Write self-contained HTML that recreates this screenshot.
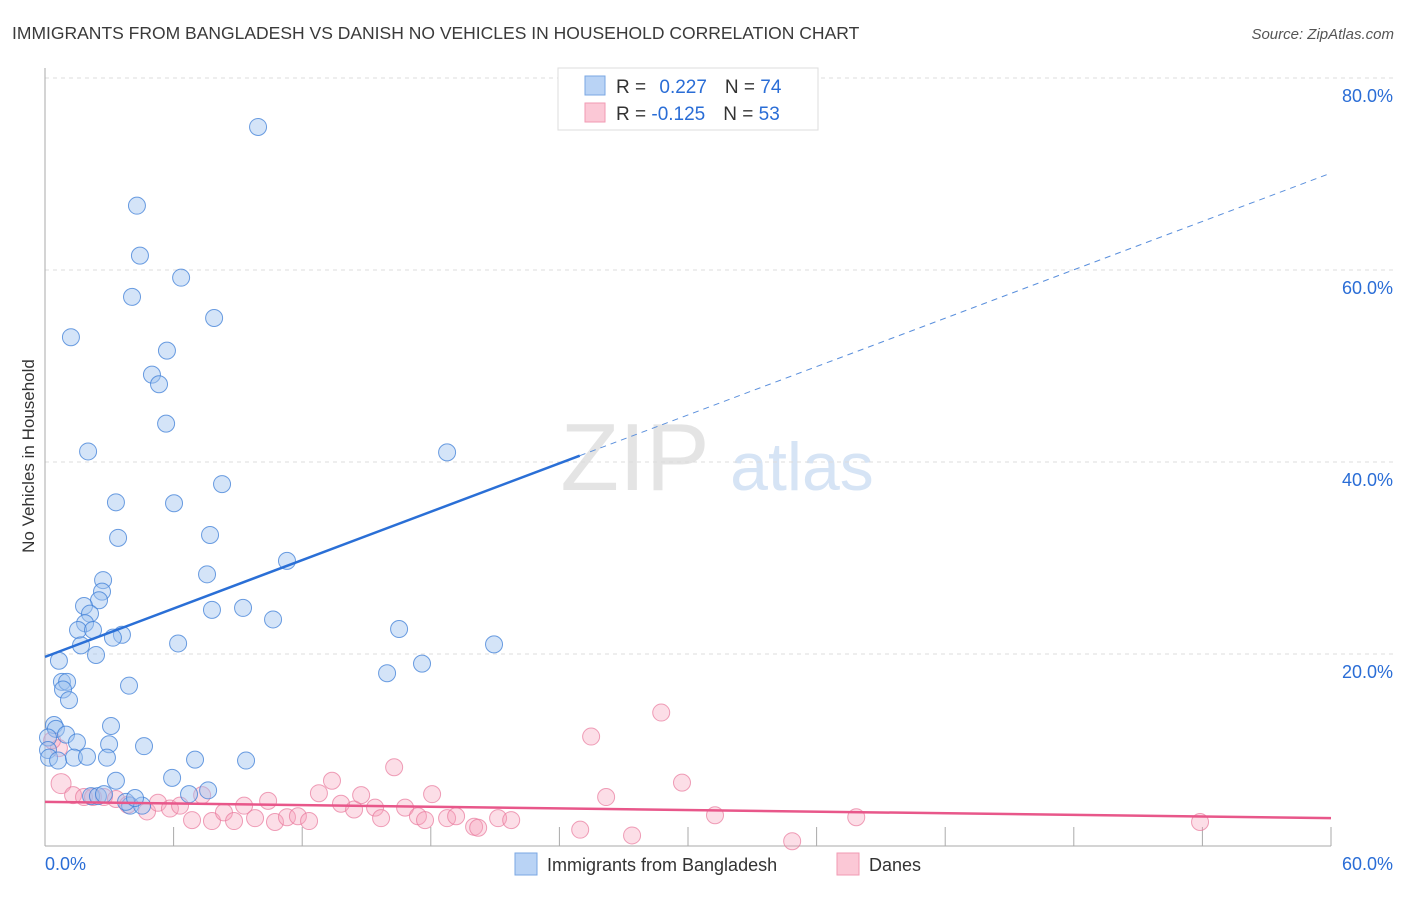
<!DOCTYPE html>
<html><head><meta charset="utf-8"><style>
body{margin:0;background:#fff;font-family:"Liberation Sans",sans-serif}
svg text{font-family:"Liberation Sans",sans-serif}
</style></head><body>
<svg id="chart" width="1406" height="892" xmlns="http://www.w3.org/2000/svg">
<text x="12" y="39" font-size="17.5" fill="#3a3a3a">IMMIGRANTS FROM BANGLADESH VS DANISH NO VEHICLES IN HOUSEHOLD CORRELATION CHART</text>
<text x="1394" y="39" font-size="15" fill="#555" font-style="italic" text-anchor="end">Source: ZipAtlas.com</text>
<text x="635" y="490" font-size="96" fill="#e4e4e4" font-family="Liberation Serif" text-anchor="middle">ZIP</text>
<text x="802" y="490" font-size="68" fill="#d6e4f5" text-anchor="middle">atlas</text>
<text transform="translate(34,456) rotate(-90)" font-size="17" fill="#333" text-anchor="middle">No Vehicles in Household</text>
<g id="grid"></g><g id="ticks"></g><g id="pts"></g><g id="trends"></g>
<g>
<rect x="558" y="68" width="260" height="62" fill="#fff" stroke="#ddd"/>
<rect x="585" y="76" width="20" height="19" fill="#b9d3f5" stroke="#7aa7e3"/>
<rect x="585" y="103" width="20" height="19" fill="#fbc8d6" stroke="#f19ab3"/>
<text x="616" y="93" font-size="19" fill="#333">R = <tspan fill="#2a6dd6" dx="8">0.227</tspan><tspan dx="18" fill="#333">N = </tspan><tspan fill="#2a6dd6">74</tspan></text>
<text x="616" y="120" font-size="19" fill="#333">R = <tspan fill="#2a6dd6">-0.125</tspan><tspan dx="18" fill="#333">N = </tspan><tspan fill="#2a6dd6">53</tspan></text>
</g>
<g>
<rect x="515" y="853" width="22" height="22" fill="#b9d3f5" stroke="#7aa7e3"/>
<text x="547" y="871" font-size="18" fill="#333">Immigrants from Bangladesh</text>
<rect x="837" y="853" width="22" height="22" fill="#fbc8d6" stroke="#f19ab3"/>
<text x="869" y="871" font-size="18" fill="#333">Danes</text>
</g>
</svg>
<script>
const blueX=[9.94,4.29,4.43,6.35,4.06,7.89,1.21,5.69,4.99,5.32,5.65,18.76,2.01,8.26,3.31,6.02,3.41,7.70,11.29,7.56,2.71,2.66,2.52,1.82,9.24,7.79,2.10,10.64,1.87,1.54,2.24,16.52,3.59,3.17,1.68,6.21,20.95,2.38,0.65,17.59,15.96,0.79,1.03,3.92,0.84,1.12,0.42,0.51,3.08,0.98,1.49,2.99,4.62,0.14,0.14,0.19,0.61,1.35,1.96,2.89,7.00,9.38,3.31,5.93,7.61,6.72,2.15,2.47,2.75,3.97,3.78,4.53,4.20];
const blueY=[74.9,66.7,61.5,59.2,57.2,55.0,53.0,51.6,49.1,48.1,44.0,41.0,41.1,37.7,35.8,35.7,32.1,32.4,29.7,28.3,27.7,26.5,25.6,25.0,24.8,24.6,24.2,23.6,23.2,22.5,22.5,22.6,22.0,21.7,20.9,21.1,21.0,19.9,19.3,19.0,18.0,17.1,17.1,16.7,16.3,15.2,12.6,12.2,12.5,11.6,10.8,10.6,10.4,11.3,10.0,9.2,8.9,9.2,9.3,9.2,9.0,8.9,6.8,7.1,5.8,5.4,5.2,5.2,5.4,4.2,4.6,4.2,5.0];
const pinkX=[0.75,0.65,0.33,1.31,1.82,2.24,2.75,3.31,3.87,4.76,5.27,5.83,6.30,6.86,7.33,7.79,8.35,8.82,9.29,9.80,10.41,10.73,11.29,11.80,12.32,12.78,13.39,13.81,14.42,14.75,15.40,15.68,16.29,16.80,17.40,17.73,18.06,18.76,19.18,20.02,20.21,21.14,21.75,24.97,25.48,26.18,27.39,28.75,29.72,31.26,34.86,37.85,53.89];
const pinkY=[6.5,10.2,11.0,5.3,5.1,5.1,5.1,4.9,4.3,3.6,4.5,3.9,4.2,2.7,5.3,2.6,3.5,2.6,4.2,2.9,4.7,2.5,3.0,3.1,2.6,5.5,6.8,4.4,3.8,5.3,4.0,2.9,8.2,4.0,3.1,2.7,5.4,2.9,3.1,2.0,1.9,2.9,2.7,1.7,11.4,5.1,1.1,13.9,6.6,3.2,0.5,3.0,2.5];
const blueTrend=[19.7,70.1]; // y at x=0 and x=60
const blueSolidEnd=24.95;
const pinkTrend=[4.6,2.9];
const yTicks=[20,40,60,80];
const xTickVals=[0,6,12,18,24,30,36,42,48,54,60];
const NS="http://www.w3.org/2000/svg";
const X=v=>45+v/60*1286, Y=v=>846-v/80*768;
function mk(t,a,p){const e=document.createElementNS(NS,t);for(const k in a)e.setAttribute(k,a[k]);p.appendChild(e);return e;}
const grid=document.getElementById('grid'),ticks=document.getElementById('ticks'),pts=document.getElementById('pts'),tr=document.getElementById('trends');
yTicks.forEach(v=>{
 const l=mk('line',{x1:45,x2:1394,y1:Y(v),y2:Y(v),stroke:'#ddd','stroke-dasharray':'4,4'},grid);
 
 
 const t=mk('text',{x:1393,y:Y(v)+24,'font-size':18,fill:'#2a6dd6','text-anchor':'end'},ticks);t.textContent=v.toFixed(1)+'%';
 
 
});
const ax=mk('line',{x1:45,x2:1331,y1:846,y2:846,stroke:'#aaa'},ticks);


const ay=mk('line',{x1:45,x2:45,y1:68,y2:846,stroke:'#aaa'},ticks);


xTickVals.slice(1).forEach(v=>{const l=mk('line',{x1:X(v),x2:X(v),y1:827,y2:846,stroke:'#aaa'},ticks);
 
 });
[[0,'start',45],[60,'end',1393]].forEach(([v,a,x])=>{const t=mk('text',{x:x,y:870,'font-size':18,fill:'#2a6dd6','text-anchor':a},ticks);t.textContent=v.toFixed(1)+'%';
 
 });
pinkX.forEach((x,i)=>{const c=mk('circle',{cx:X(x),cy:Y(pinkY[i]),r:i==0?10:8.5,fill:'rgba(247,160,186,0.35)',stroke:'rgba(232,120,155,0.7)','stroke-width':1},pts);
 
 });
blueX.forEach((x,i)=>{const c=mk('circle',{cx:X(x),cy:Y(blueY[i]),r:8.5,fill:'rgba(160,196,240,0.45)',stroke:'rgba(60,125,215,0.75)','stroke-width':1},pts);
 
 });
const by=v=>blueTrend[0]+(blueTrend[1]-blueTrend[0])*v/60;
const b1=mk('line',{x1:X(0),y1:Y(by(0)),x2:X(blueSolidEnd),y2:Y(by(blueSolidEnd)),stroke:'#2a6fd6','stroke-width':2.5},tr);


const b2=mk('line',{x1:X(blueSolidEnd),y1:Y(by(blueSolidEnd)),x2:X(60),y2:Y(by(60)),stroke:'#5a8fdc','stroke-width':1,'stroke-dasharray':'6,5'},tr);


const p1=mk('line',{x1:X(0),y1:Y(pinkTrend[0]),x2:X(60),y2:Y(pinkTrend[1]),stroke:'#e8578a','stroke-width':2.5},tr);


</script>
</body></html>
